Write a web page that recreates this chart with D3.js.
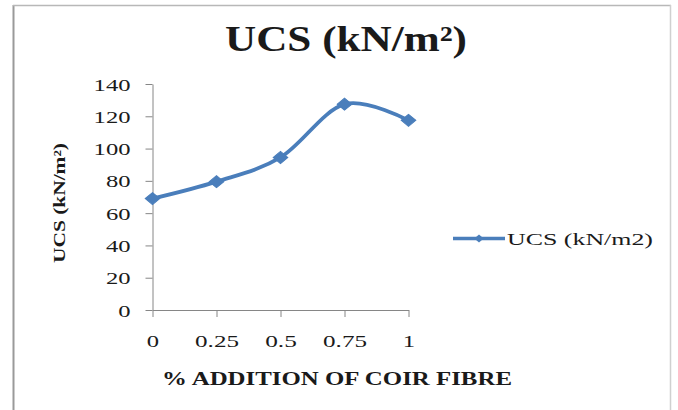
<!DOCTYPE html>
<html>
<head>
<meta charset="utf-8">
<script src="https://cdn.jsdelivr.net/npm/d3@7"></script>
<style>
  html, body { margin: 0; padding: 0; background: #fff; }
  svg { display: block; }
  text { font-family: "Liberation Serif", "Times New Roman", serif; fill: #1a1a1a; }
</style>
</head>
<body>
<svg id="chart" width="678" height="410"></svg>
<script>
// Fibre content (%) and unconfined compressive strength
const categories = ["0", "0.25", "0.5", "0.75", "1"];
const ucsValues = [69, 79.5, 94.5, 127.5, 117.5];
const yTicks = [0, 20, 40, 60, 80, 100, 120, 140];
const seriesName = "UCS (kN/m2)";
const chartTitle = "UCS (kN/m²)";
const yTitle = "UCS (kN/m²)";
const xTitle = "% ADDITION OF COIR FIBRE";

const svg = d3.select("#chart");
const blue = "#4a7ebb";
const axisGrey = "#868686";

// chart area frame (left, top, right edges)
svg.append("line").attr("x1", 13.5).attr("x2", 13.5).attr("y1", 5).attr("y2", 410)
  .attr("stroke", "#9a9a9a").attr("stroke-width", 2);
svg.append("line").attr("x1", 13).attr("x2", 671).attr("y1", 5.5).attr("y2", 5.5)
  .attr("stroke", "#b8b8b8").attr("stroke-width", 1.5);
svg.append("line").attr("x1", 670.5).attr("x2", 670.5).attr("y1", 5).attr("y2", 410)
  .attr("stroke", "#d0d0d0").attr("stroke-width", 1.5);

const x = d3.scalePoint().domain(categories).range([152.5, 408.5]).padding(0);
const y = d3.scaleLinear().domain([0, 140]).range([310, 84]);

// character widths used to stretch labels to their drawn width
const charW = c => (c === "." ? 7 : 12.3);
const strW = s => Array.from(s).reduce((a, c) => a + charW(c), 0);

// y axis
const gy = svg.append("g").attr("transform", `translate(${x.range()[0]},0)`)
  .call(d3.axisLeft(y).tickValues(yTicks).tickSize(7).tickSizeOuter(0).tickPadding(7));
gy.select(".domain").attr("stroke", axisGrey);
gy.selectAll(".tick line").attr("stroke", axisGrey);
gy.selectAll(".tick text")
  .attr("font-size", 17).attr("fill", "#1a1a1a")
  .attr("x", -22).attr("dy", "0.36em")
  .attr("textLength", d => strW(String(d))).attr("lengthAdjust", "spacingAndGlyphs");

// x axis
const gx = svg.append("g").attr("transform", `translate(0,${y(0)})`)
  .call(d3.axisBottom(x).tickSize(7).tickSizeOuter(0).tickPadding(9));
gx.select(".domain").attr("stroke", axisGrey);
gx.selectAll(".tick line").attr("stroke", axisGrey);
gx.selectAll(".tick text")
  .attr("font-size", 17).attr("fill", "#1a1a1a")
  .attr("y", 37).attr("dy", 0)
  .attr("textLength", d => strW(d)).attr("lengthAdjust", "spacingAndGlyphs");

// smoothed series line
const line = d3.line()
  .x((d, i) => x(categories[i]))
  .y(d => y(d))
  .curve(d3.curveCatmullRom.alpha(0));
svg.append("path").datum(ucsValues)
  .attr("d", line).attr("fill", "none")
  .attr("stroke", blue).attr("stroke-width", 3.8).attr("stroke-linejoin", "round");

// diamond markers
const diamond = d3.symbol(d3.symbolSquare, 80)();
svg.selectAll(".marker").data(ucsValues).join("path")
  .attr("class", "marker")
  .attr("d", diamond)
  .attr("transform", (d, i) => `translate(${x(categories[i])},${y(d)}) scale(1.15,0.95) rotate(45)`)
  .attr("fill", blue).attr("stroke", blue).attr("stroke-width", 1);

// title
svg.append("text").attr("x", 225).attr("y", 51)
  .attr("font-size", 35).attr("font-weight", "bold")
  .attr("textLength", 242).attr("lengthAdjust", "spacingAndGlyphs")
  .text(chartTitle);

// y axis title
svg.append("text")
  .attr("transform", "translate(65,263) rotate(-90)")
  .attr("font-size", 16).attr("font-weight", "bold")
  .attr("textLength", 120).attr("lengthAdjust", "spacingAndGlyphs")
  .text(yTitle);

// x axis title
svg.append("text").attr("x", 162).attr("y", 385)
  .attr("font-size", 18).attr("font-weight", "bold")
  .attr("textLength", 350).attr("lengthAdjust", "spacingAndGlyphs")
  .text(xTitle);

// legend
const lg = svg.append("g");
lg.append("line").attr("x1", 453).attr("x2", 505).attr("y1", 238.5).attr("y2", 238.5)
  .attr("stroke", blue).attr("stroke-width", 3.5);
lg.append("path").attr("d", d3.symbol(d3.symbolSquare, 36)())
  .attr("transform", "translate(479,238.5) scale(1.1,0.95) rotate(45)")
  .attr("fill", blue);
lg.append("text").attr("x", 507).attr("y", 245)
  .attr("font-size", 17)
  .attr("textLength", 146).attr("lengthAdjust", "spacingAndGlyphs")
  .text(seriesName);
</script>
</body>
</html>
